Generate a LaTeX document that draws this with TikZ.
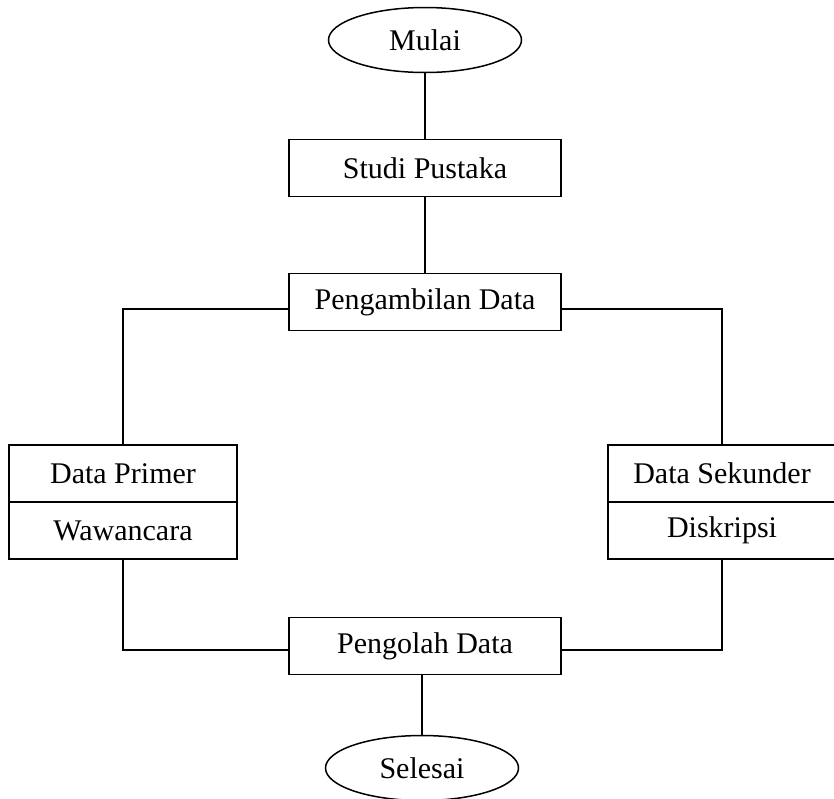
\documentclass[tikz,border=0pt]{standalone}
\usepackage{fontspec}
\setmainfont{Liberation Serif}
\usetikzlibrary{shapes.geometric}
\begin{document}
\begin{tikzpicture}[x=0.5pt,y=-0.5pt,
  line width=0.75pt,
  every node/.style={font=\fontsize{15}{18}\selectfont},
  procbox/.style={draw,rectangle,inner sep=0pt,minimum width=136pt,minimum height=28.5pt},
  sidebox/.style={draw,rectangle,inner sep=0pt,minimum width=114pt,minimum height=28.5pt},
  term/.style={draw,ellipse,inner sep=0pt,minimum width=96.5pt,minimum height=32.5pt}]
\useasboundingbox (0,0) rectangle (834,798);
\clip (0,0) rectangle (834,798);
\node[term] (mulai) at (425,40) {Mulai};
\node[procbox] (studi) at (425,168) {Studi Pustaka};
\node[procbox] (ambil) at (425,302) {Pengambilan Data};
\node[sidebox] (dp1) at (123,473.5) {Data Primer};
\node[sidebox] (dp2) at (123,530.5) {Wawancara};
\node[sidebox] (ds1) at (722,473.5) {Data Sekunder};
\node[sidebox] (ds2) at (722,530.5) {Diskripsi};
\node[procbox] (olah) at (425,646) {Pengolah Data};
\node[term] (selesai) at (422,768) {Selesai};
\draw (mulai) -- (studi);
\draw (studi) -- (ambil);
\draw ([yshift=-3.5pt]ambil.west) -| (dp1.north);
\draw ([yshift=-3.5pt]ambil.east) -| (ds1.north);
\draw (dp2.south) |- ([yshift=-2pt]olah.west);
\draw (ds2.south) |- ([yshift=-2pt]olah.east);
\draw (olah.south -| selesai.north) -- (selesai.north);
\end{tikzpicture}
\end{document}
